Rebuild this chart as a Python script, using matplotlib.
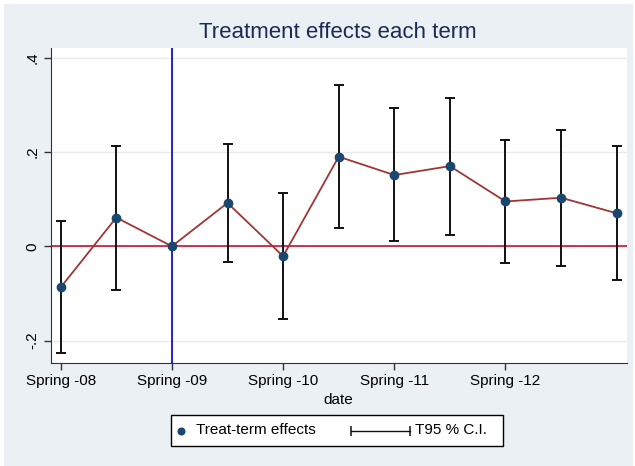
import numpy as np
import matplotlib
matplotlib.use('Agg')
import matplotlib.pyplot as plt
import matplotlib.patches as mpatches
from matplotlib.lines import Line2D

plt.rcParams['font.family'] = ['Liberation Sans', 'DejaVu Sans']

# term estimates (one per term, spring/fall), Spring -09 is the reference term
terms = np.arange(11)
effects = [-0.087, 0.061, 0.0, 0.092, -0.021, 0.190, 0.151, 0.170, 0.095, 0.103, 0.070]
ci_low = [-0.227, -0.092, np.nan, -0.033, -0.154, 0.038, 0.011, 0.024, -0.036, -0.042, -0.072]
ci_high = [0.054, 0.213, np.nan, 0.216, 0.112, 0.342, 0.293, 0.315, 0.225, 0.246, 0.213]

xtick_pos = [0, 2, 4, 6, 8]
xtick_labels = ['Spring -08', 'Spring -09', 'Spring -10', 'Spring -11', 'Spring -12']
ytick_pos = [-0.2, 0, 0.2, 0.4]
ytick_labels = ['-.2', '0', '.2', '.4']
ref_term = 2
legend_labels = ['Treat-term effects', 'T95 % C.I.']

bg = '#eaf0f3'
navy = '#1a476f'
W, H = 635.0, 466.0

def fx(px):
    return px / W

def fy(py):
    return 1 - py / H

fig = plt.figure(figsize=(6.35, 4.66), dpi=100, facecolor='white')
# stata style outer region
fig.patches.append(mpatches.Rectangle((fx(4), 0), fx(629), 1 - 4 / H,
                                      transform=fig.transFigure, facecolor=bg,
                                      edgecolor='none', zorder=-10))

ax = fig.add_axes([fx(50.7), fy(363.3), fx(576), 315.6 / H])
ax.set_facecolor('white')

for y in ytick_pos:
    ax.axhline(y, color='#eaeaea', lw=1, zorder=0)
ax.axhline(0, color='#c8102e', lw=1.2, zorder=1)
ax.axvline(ref_term, color='#1010cc', lw=1.3, zorder=1)

lo = np.array(ci_low)
hi = np.array(ci_high)
mask = ~np.isnan(lo)
ax.errorbar(terms[mask], (lo[mask] + hi[mask]) / 2, yerr=(hi[mask] - lo[mask]) / 2,
            fmt='none', ecolor='#111111', elinewidth=1.4, capsize=3.5, capthick=1.4, zorder=2)
ax.plot(terms, effects, color='#a03535', lw=1.3, zorder=3)
ax.plot(terms, effects, 'o', color=navy, ms=6, zorder=4)

ax.set_xlim(-0.18, 10.18)
ax.set_ylim(-0.248, 0.421)
ax.set_xticks(xtick_pos)
ax.set_xticklabels(xtick_labels, fontsize=11)
ax.set_yticks(ytick_pos)
ax.set_yticklabels(ytick_labels, fontsize=11, rotation=90, va='center')
ax.tick_params(direction='out', length=5, width=1, color='#333333', pad=3)
ax.spines['top'].set_visible(False)
ax.spines['right'].set_visible(False)
ax.spines['left'].set_color('#333333')
ax.spines['bottom'].set_color('#333333')
ax.set_xlabel('date', fontsize=11, labelpad=3)

fig.text(fx(338), fy(32), 'Treatment effects each term', fontsize=16,
         color='#1c2a55', ha='center', va='center')

# legend drawn by hand (stata layout: dot right beside its text, long rcap sample)
fig.patches.append(mpatches.Rectangle((fx(171), fy(445.5)), fx(332), 30.5 / H,
                                      transform=fig.transFigure, facecolor='white',
                                      edgecolor='black', lw=1, zorder=5))
fig.lines.append(Line2D([fx(180.7)], [fy(430.5)], transform=fig.transFigure,
                        marker='o', color=navy, ms=4.8, ls='none', zorder=6))
fig.text(fx(196), fy(430.5), legend_labels[0], fontsize=11, ha='left', va='center', zorder=6)
fig.lines.append(Line2D([fx(351), fx(410)], [fy(430.5), fy(430.5)], transform=fig.transFigure,
                        color='#111111', lw=1, marker='|', ms=7, mew=1.1, zorder=6))
fig.text(fx(415), fy(430.5), legend_labels[1], fontsize=11, ha='left', va='center', zorder=6)

fig.savefig('out.png', dpi=100, facecolor=fig.get_facecolor())
